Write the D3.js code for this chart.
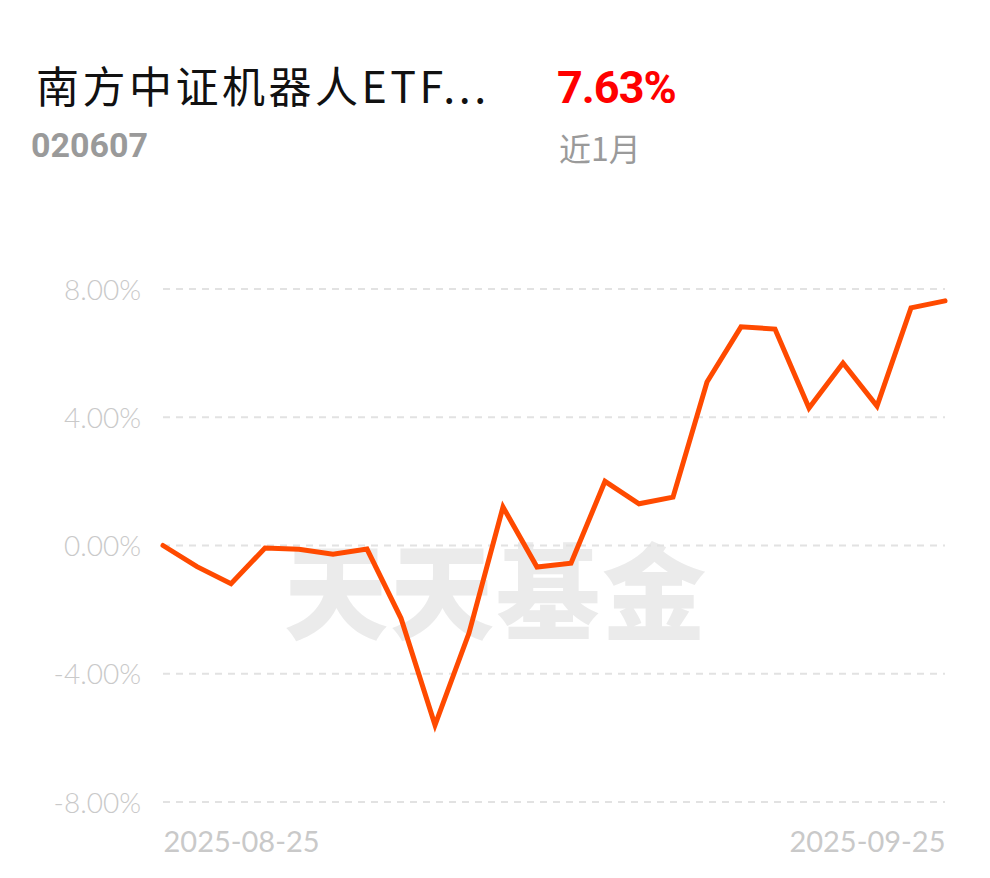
<!DOCTYPE html>
<html>
<head>
<meta charset="utf-8">
<script src="https://cdn.jsdelivr.net/npm/d3@7"></script>
<style>
  html, body { margin: 0; padding: 0; background: #fff; }
  svg { display: block; }
</style>
</head>
<body>
<svg id="chart" width="990" height="878"></svg>
<script>
const fundName = "南方中证机器人ETF...";
const fundCode = "020607";
const periodReturn = "7.63%";
const periodLabel = "近1月";
const watermark = "天天基金";

const dates = [
  "2025-08-25","2025-08-26","2025-08-27","2025-08-28","2025-08-29",
  "2025-09-01","2025-09-02","2025-09-03","2025-09-04","2025-09-05",
  "2025-09-08","2025-09-09","2025-09-10","2025-09-11","2025-09-12",
  "2025-09-15","2025-09-16","2025-09-17","2025-09-18","2025-09-19",
  "2025-09-22","2025-09-23","2025-09-24","2025-09-25"
];
const returns = [
  0.00, -0.66, -1.19, -0.08, -0.12, -0.27, -0.11, -2.27, -5.60, -2.73,
  1.20, -0.67, -0.55, 2.00, 1.30, 1.51, 5.10, 6.82, 6.75, 4.29,
  5.69, 4.35, 7.41, 7.63
];
const yTicks = [8, 4, 0, -4, -8];
const xTickLabels = ["2025-08-25", "2025-09-25"];

const svg = d3.select("#chart");
const plotLeft = 163, plotRight = 945, plotTop = 289, plotBottom = 802;

const x = d3.scalePoint().domain(dates).range([plotLeft, plotRight]);
const y = d3.scaleLinear().domain([-8, 8]).range([plotBottom, plotTop]);

// Header
svg.append("text").attr("x", 36).attr("y", 103)
  .attr("font-family", "'Noto Sans CJK SC', sans-serif")
  .attr("font-size", 43).attr("letter-spacing", 3.5).attr("fill", "#111").text(fundName);
svg.append("text").attr("x", 31).attr("y", 157)
  .attr("font-family", "Roboto, 'Noto Sans', sans-serif").attr("font-weight", 700)
  .attr("font-size", 34).attr("fill", "#9a9a9a").text(fundCode);
svg.append("text").attr("x", 557).attr("y", 103)
  .attr("font-family", "Roboto, 'Noto Sans', sans-serif").attr("font-weight", 700)
  .attr("font-size", 45).attr("fill", "#ff0000").attr("letter-spacing", -1).text(periodReturn);
svg.append("text").attr("x", 559).attr("y", 161)
  .attr("font-family", "'Noto Sans CJK SC', sans-serif")
  .attr("font-size", 32).attr("fill", "#9a9a9a").text(periodLabel);

// Watermark
svg.append("text").attr("x", 496).attr("y", 632)
  .attr("text-anchor", "middle")
  .attr("font-family", "'Noto Sans CJK SC', sans-serif").attr("font-weight", 900)
  .attr("font-size", 104).attr("fill", "#ebebeb").attr("letter-spacing", 2).text(watermark);

// Grid + y axis
const yAxis = d3.axisLeft(y).tickValues(yTicks)
  .tickSize(0).tickPadding(0)
  .tickFormat(d => d.toFixed(2) + "%");
const yg = svg.append("g").attr("transform", `translate(141,0)`).call(yAxis);
yg.select(".domain").remove();
yg.selectAll("text")
  .attr("font-family", "Lato, 'Open Sans', sans-serif").attr("font-weight", 300)
  .attr("font-size", 28).attr("fill", "#c9c9c9").attr("dy", "0.36em");

svg.append("g").selectAll("line").data(yTicks).join("line")
  .attr("x1", plotLeft).attr("x2", plotRight)
  .attr("y1", d => y(d)).attr("y2", d => y(d))
  .attr("stroke", "#e2e2e2").attr("stroke-width", 2)
  .attr("stroke-dasharray", "7,6");

// x axis labels
const xAxis = d3.axisBottom(x).tickValues(xTickLabels).tickSize(0).tickPadding(0);
const xg = svg.append("g").attr("transform", `translate(0,${plotBottom})`).call(xAxis);
xg.select(".domain").remove();
xg.selectAll("text")
  .attr("font-family", "Lato, 'Open Sans', sans-serif").attr("font-weight", 400)
  .attr("font-size", 29).attr("fill", "#c9c9c9")
  .attr("dy", 50)
  .attr("text-anchor", (d, i) => i === 0 ? "start" : "end");

// Line
const line = d3.line().x((d, i) => x(dates[i])).y(d => y(d));
svg.append("path").datum(returns)
  .attr("d", line).attr("fill", "none")
  .attr("stroke", "#ff4a00").attr("stroke-width", 5)
  .attr("stroke-linejoin", "miter").attr("stroke-linecap", "round");
</script>
</body>
</html>
